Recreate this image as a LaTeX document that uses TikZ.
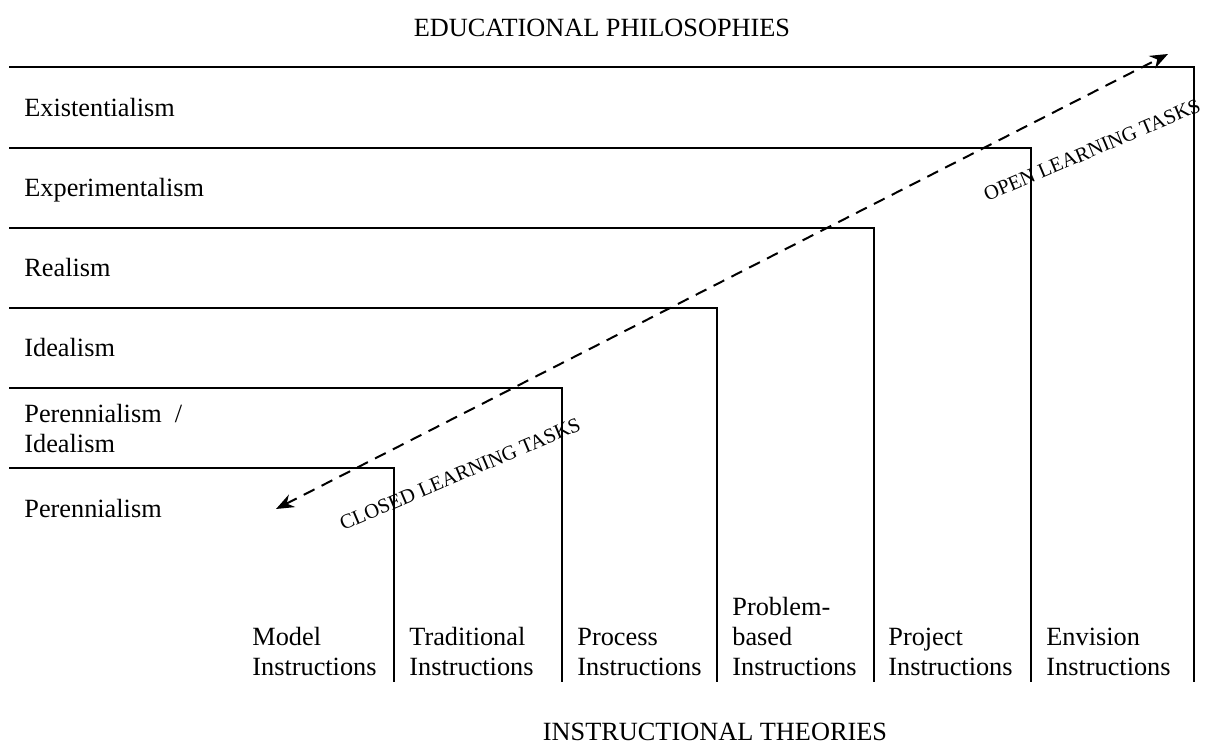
\documentclass[tikz,border=0pt]{standalone}
\usepackage{fontspec}
\setmainfont{Liberation Serif}
\usetikzlibrary{positioning,arrows.meta}

\begin{document}
\begin{tikzpicture}[x=0.5pt,y=-0.5pt,
        philosophy/.style={
            anchor = base west, inner sep = 0pt, align = left, font = \fontsize{13.15}{15}\selectfont
        },
        theory/.style={
            anchor = base west, inner sep = 0pt, align = left, font = \fontsize{13.15}{15}\selectfont
        },
        heading/.style={
            anchor = base, inner sep = 0pt, font = \fontsize{13.15}{15}\selectfont
        },
        tasks/.style={
            inner sep = 0pt, rotate = 23, font = \fontsize{10.3}{12}\selectfont
        },
        level/.style={
            line width = 1pt, line join = miter
        },
        taskArrow/.style={
            line width = 1pt, dash pattern = on 6pt off 4pt, {Stealth[length=9pt,width=7pt,inset=3pt]}-{Stealth[length=9pt,width=7pt,inset=3pt]}
        },
    ]
        \useasboundingbox (0,0) rectangle (1207,749);

        \node (eduPhil) [heading] at (602,37) {EDUCATIONAL PHILOSOPHIES};
        \node (instTheo) [heading] at (715,740) {INSTRUCTIONAL THEORIES};

        \draw[level] (9,67.5) -- (1194,67.5) -- (1194,682);
        \draw[level] (9,148) -- (1031,148) -- (1031,682);
        \draw[level] (9,228.5) -- (873.5,228.5) -- (873.5,682);
        \draw[level] (9,308) -- (717,308) -- (717,682);
        \draw[level] (9,388) -- (562,388) -- (562,682);
        \draw[level] (9,468) -- (394,468) -- (394,682);

        \node (existentialism) [philosophy] at (24,117) {Existentialism};
        \node (experimentalism) [philosophy] at (24,197) {Experimentalism};
        \node (realism) [philosophy] at (24,277) {Realism};
        \node (idealism) [philosophy] at (24,357) {Idealism};
        \node (perIdealism) [philosophy] at (24,452) {Perennialism~~/ \\ Idealism};
        \node (perennialism) [philosophy] at (24,517) {Perennialism};

        \node (model) [theory] at (252,675) {Model \\ Instructions};
        \node (traditional) [theory] at (409,675) {Traditional \\ Instructions};
        \node (process) [theory] at (577,675) {Process \\ Instructions};
        \node (problemBased) [theory] at (732,675) {Problem- \\ based \\ Instructions};
        \node (project) [theory] at (888,675) {Project \\ Instructions};
        \node (envision) [theory] at (1046,675) {Envision \\ Instructions};

        \coordinate (closedEnd) at (276,509);
        \coordinate (openEnd) at (1168,54);
        \path (closedEnd) edge[taskArrow] (openEnd);
        \node (closedTasks) [tasks] at (460,474) {CLOSED LEARNING TASKS};
        \node (openTasks) [tasks] at (1092,150) {OPEN LEARNING TASKS};

    \end{tikzpicture}
\end{document}
